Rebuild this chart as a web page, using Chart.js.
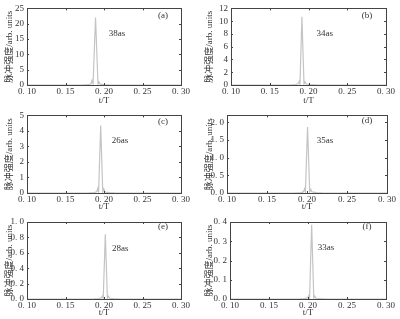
<!DOCTYPE html>
<html lang="zh">
<head>
<meta charset="UTF-8">
<title>脉冲强度</title>
<script src="https://cdn.jsdelivr.net/npm/chart.js"></script>
<style>
    body { margin: 0; background: #fff; }
    #wrap { position: relative; width: 400px; height: 319px; }
    .panel { position: absolute; }
</style>
</head>
<body>
<div id="wrap"></div>
<script>
    // shared x axis
    const xTicks = [0.10, 0.15, 0.20, 0.25, 0.30];
    const xTickLabels = ['0. 10', '0. 15', '0. 20', '0. 25', '0. 30'];

    // pulse curves (t/T, intensity)
    const tA = [0.10, 0.170, 0.180, 0.1830, 0.1845, 0.1858, 0.1890, 0.1922, 0.1935, 0.1950, 0.200, 0.210, 0.30];
    const yA = [0, 0, 0.1, 0.4, 1.5, 0.3, 22.0, 0.3, 1.0, 0.3, 0.1, 0, 0];
    const tB = [0.10, 0.175, 0.183, 0.1865, 0.1880, 0.1890, 0.1915, 0.1942, 0.1955, 0.1970, 0.203, 0.212, 0.30];
    const yB = [0, 0, 0.05, 0.2, 0.6, 0.15, 10.7, 0.15, 0.5, 0.15, 0.05, 0, 0];
    const tC = [0.10, 0.178, 0.187, 0.1905, 0.1920, 0.1930, 0.1957, 0.1984, 0.1998, 0.2012, 0.207, 0.216, 0.30];
    const yC = [0, 0, 0.02, 0.08, 0.30, 0.06, 4.35, 0.06, 0.25, 0.06, 0.02, 0, 0];
    const tD = [0.10, 0.183, 0.192, 0.1955, 0.1970, 0.1980, 0.2007, 0.2034, 0.2048, 0.2062, 0.212, 0.221, 0.30];
    const yD = [0, 0, 0.01, 0.03, 0.12, 0.03, 1.87, 0.03, 0.10, 0.03, 0.01, 0, 0];
    const tE = [0.10, 0.184, 0.193, 0.1965, 0.1980, 0.1990, 0.2017, 0.2044, 0.2058, 0.2072, 0.213, 0.222, 0.30];
    const yE = [0, 0, 0.005, 0.015, 0.04, 0.01, 0.84, 0.01, 0.035, 0.01, 0.005, 0, 0];
    const tF = [0.10, 0.187, 0.196, 0.1995, 0.2010, 0.2020, 0.2047, 0.2074, 0.2088, 0.2102, 0.216, 0.225, 0.30];
    const yF = [0, 0, 0.002, 0.006, 0.018, 0.004, 0.385, 0.004, 0.015, 0.004, 0.002, 0, 0];

    // y ticks per panel
    const yTicksA = [0, 5, 10, 15, 20, 25];
    const yTicksB = [0, 2, 4, 6, 8, 10, 12];
    const yTicksC = [0, 1, 2, 3, 4, 5];
    const yTicksD = [0.0, 0.5, 1.0, 1.5, 2.0];
    const yTicksE = [0.0, 0.2, 0.4, 0.6, 0.8, 1.0];
    const yTicksF = [0.0, 0.1, 0.2, 0.3, 0.4];

    const panelLabels = ['(a)', '(b)', '(c)', '(d)', '(e)', '(f)'];
    const widthLabels = ['38as', '34as', '26as', '35as', '28as', '33as'];

    const yTitle = '脉冲强度/arb. units';
    const xTitle = 't/T';
    const serif = "'Liberation Serif', 'DejaVu Serif', 'Noto Sans CJK SC', serif";

    const panels = [
        { t: tA, y: yA, ticks: yTicksA, yMax: 25, dec: 0, canvas: [0, 0, 200, 107], box: [27, 8, 181, 85],
          tag: [0.2766, 22.7], note: [0.217, 16.9] },
        { t: tB, y: yB, ticks: yTicksB, yMax: 12, dec: 0, canvas: [200, 0, 200, 107], box: [231, 7, 386, 85],
          tag: [0.2755, 10.8], note: [0.221, 8.0] },
        { t: tC, y: yC, ticks: yTicksC, yMax: 5, dec: 0, canvas: [0, 107, 200, 106], box: [27, 115, 181, 193],
          tag: [0.2766, 4.63], note: [0.2208, 3.4] },
        { t: tD, y: yD, ticks: yTicksD, yMax: 2.2, dec: 1, canvas: [200, 107, 200, 106], box: [227, 115, 387, 193],
          tag: [0.275, 2.04], note: [0.2225, 1.49] },
        { t: tE, y: yE, ticks: yTicksE, yMax: 1.0, dec: 1, canvas: [0, 213, 200, 106], box: [27, 222, 181, 299],
          tag: [0.2766, 0.94], note: [0.221, 0.66] },
        { t: tF, y: yF, ticks: yTicksF, yMax: 0.4, dec: 1, canvas: [200, 213, 200, 106], box: [230, 222, 386, 299],
          tag: [0.2756, 0.376], note: [0.223, 0.265] }
    ];

    function fmt(v, dec) {
        if (dec === 0) return String(v);
        return v.toFixed(dec).replace('.', '. ');
    }

    // box frame, inward ticks and the two text notes
    const framePlugin = {
        id: 'frame',
        afterDatasetsDraw(chart, args, opts) {
            const ctx = chart.ctx;
            const a = chart.chartArea;
            const xs = chart.scales.x, ys = chart.scales.y;
            ctx.save();
            ctx.strokeStyle = '#444';
            ctx.lineWidth = 1;
            ctx.strokeRect(Math.round(a.left) + 0.5, Math.round(a.top) + 0.5,
                Math.round(a.right - a.left), Math.round(a.bottom - a.top));
            ctx.beginPath();
            xTicks.forEach(v => {
                const px = Math.round(xs.getPixelForValue(v)) + 0.5;
                ctx.moveTo(px, a.bottom); ctx.lineTo(px, a.bottom - 2);
                ctx.moveTo(px, a.top); ctx.lineTo(px, a.top + 2);
            });
            opts.ticks.forEach(v => {
                const py = Math.round(ys.getPixelForValue(v)) + 0.5;
                ctx.moveTo(a.left, py); ctx.lineTo(a.left + 2, py);
                ctx.moveTo(a.right, py); ctx.lineTo(a.right - 2, py);
            });
            ctx.stroke();
            ctx.fillStyle = '#333';
            ctx.font = '9px ' + serif;
            ctx.textAlign = 'center';
            ctx.textBaseline = 'middle';
            ctx.fillText(opts.tag, xs.getPixelForValue(opts.tagPos[0]), ys.getPixelForValue(opts.tagPos[1]));
            ctx.fillText(opts.note, xs.getPixelForValue(opts.notePos[0]), ys.getPixelForValue(opts.notePos[1]));
            ctx.restore();
        }
    };

    const wrap = document.getElementById('wrap');
    panels.forEach((p, i) => {
        const [cl, ct, cw, ch] = p.canvas;
        const [bl, bt, br, bb] = p.box;
        const div = document.createElement('div');
        div.className = 'panel';
        div.style.left = cl + 'px';
        div.style.top = ct + 'px';
        div.style.width = cw + 'px';
        div.style.height = ch + 'px';
        const cv = document.createElement('canvas');
        div.appendChild(cv);
        wrap.appendChild(div);

        new Chart(cv, {
            type: 'line',
            data: {
                datasets: [{
                    data: p.t.map((t, k) => ({ x: t, y: p.y[k] })),
                    borderColor: '#c4c4c4',
                    borderWidth: 1.2,
                    pointRadius: 0,
                    tension: 0,
                    fill: false
                }]
            },
            options: {
                responsive: true,
                maintainAspectRatio: false,
                animation: false,
                layout: { padding: { top: bt - ct, right: cl + cw - br, left: 0, bottom: 0 } },
                plugins: {
                    legend: { display: false },
                    tooltip: { enabled: false },
                    frame: {
                        ticks: p.ticks, tag: panelLabels[i], note: widthLabels[i],
                        tagPos: p.tag, notePos: p.note
                    }
                },
                scales: {
                    x: {
                        type: 'linear',
                        min: 0.10, max: 0.30,
                        afterBuildTicks: s => { s.ticks = xTicks.map(v => ({ value: v })); },
                        afterFit: s => { s.height = ct + ch - bb; },
                        grid: { display: false, drawTicks: false },
                        border: { display: false },
                        ticks: {
                            color: '#333', padding: 1, maxRotation: 0, autoSkip: false,
                            font: { family: serif, size: 9 },
                            callback: (v, k) => xTickLabels[k]
                        },
                        title: {
                            display: true, text: xTitle, color: '#333', padding: { top: 0, bottom: 1 },
                            font: { family: serif, size: 9 }
                        }
                    },
                    y: {
                        min: 0, max: p.yMax,
                        afterBuildTicks: s => { s.ticks = p.ticks.map(v => ({ value: v })); },
                        afterFit: s => { s.width = bl - cl; },
                        grid: { display: false, drawTicks: false },
                        border: { display: false },
                        ticks: {
                            color: '#333', padding: 3, autoSkip: false,
                            font: { family: serif, size: 9 },
                            callback: (v, k) => fmt(p.ticks[k], p.dec)
                        },
                        title: {
                            display: true, text: yTitle, color: '#333', padding: { top: 4, bottom: 0 },
                            font: { family: serif, size: 9 }
                        }
                    }
                }
            },
            plugins: [framePlugin]
        });
    });
</script>
</body>
</html>
